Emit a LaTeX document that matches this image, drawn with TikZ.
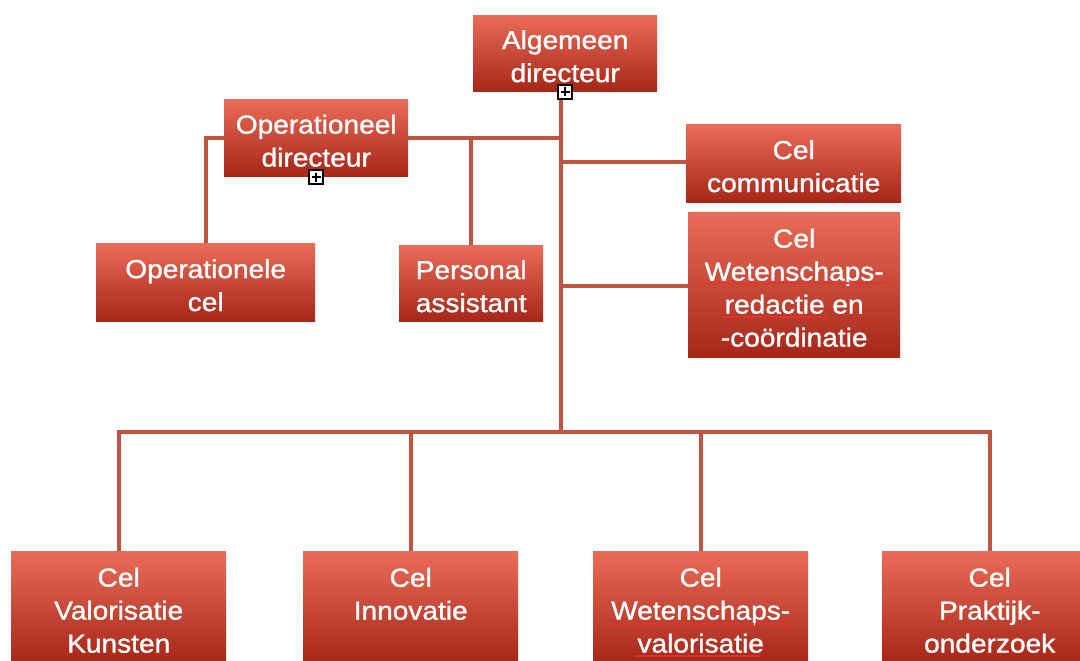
\documentclass[tikz,border=0pt]{standalone}
\usepackage{fontspec}
\setmainfont{Liberation Sans}[FakeStretch=1.08,FakeBold=1.2]
\newcommand\tp{\rule{0pt}{25pt}}
\newcommand\zl{\rule{0pt}{1pt}}
\begin{document}
\begin{tikzpicture}[x=1pt,y=-1pt]
\definecolor{boxtop}{RGB}{234,108,88}
\definecolor{boxbot}{RGB}{166,38,24}
\definecolor{linec}{RGB}{192,84,64}
\definecolor{squig}{RGB}{230,50,50}
\tikzset{
  unit/.style={shade, top color=boxtop, bottom color=boxbot, text=white,
    font=\fontsize{26}{33}\selectfont, align=center, inner sep=0pt, anchor=north west},
  conn/.style={draw=linec, line width=4pt},
  plusbox/.style={draw=black, fill=white, minimum size=14pt, inner sep=0pt, line width=1.2pt},
  plusmark/.style={line width=1.2pt},
  spell/.style={draw=squig, line width=1.6pt, dash pattern=on 2.5pt off 1.5pt}
}
\useasboundingbox (0,0) rectangle (1080,661);
% junctions
\coordinate (j1) at (561,138);
\coordinate (j2) at (561,162);
\coordinate (j3) at (561,286);
\coordinate (j4) at (561,432);
% boxes
\node[unit, minimum width=184pt, minimum height=76pt] (ad) at (473,15) {\tp Algemeen\\directeur};
\node[unit, minimum width=184pt, minimum height=77pt] (od) at (224,99) {\tp Operationeel\\directeur};
\node[unit, minimum width=215pt, minimum height=78pt] (cc) at (686,124) {\tp Cel\\communicatie};
\node[unit, minimum width=212pt, minimum height=145pt] (cw) at (688,212) {\tp Cel\\Wetenschaps-\\redactie en\\-coördinatie};
\node[unit, minimum width=219pt, minimum height=78pt] (oc) at (96,243) {\tp Operationele\\cel};
\node[unit, minimum width=144pt, minimum height=76pt] (pa) at (399,245) {\tp Personal\\assistant};
\node[unit, minimum width=215pt, minimum height=112pt] (b1) at (11,551) {\tp Cel\\Valorisatie\\Kunsten};
\node[unit, minimum width=215pt, minimum height=112pt] (b2) at (303,551) {\tp Cel\\Innovatie\\\zl};
\node[unit, minimum width=215pt, minimum height=112pt] (b3) at (593,551) {\tp Cel\\Wetenschaps-\\valorisatie};
\node[unit, minimum width=215pt, minimum height=112pt] (b4) at (882,551) {\tp Cel\\Praktijk-\\onderzoek};
% connectors
\draw[conn] (ad.south -| j1) -- (j4);
\draw[conn] (j1) -- (od.east |- j1);
\draw[conn] (od.west |- j1) -| (oc.north);
\draw[conn] (pa.north) -- (pa.north |- j1);
\draw[conn] (j2) -- (cc.west |- j2);
\draw[conn] (j3) -- (cw.west |- j3);
\draw[conn] (b1.north) -- (b1.north |- j4) -- (b4.north |- j4) -- (b4.north);
\draw[conn] (b2.north |- j4) -- (b2.north);
\draw[conn] (b3.north |- j4) -- (b3.north);
% expand icons
\node[plusbox] (p1) at (565,92) {};
\draw[plusmark] ([xshift=-4.5pt]p1.center) -- ([xshift=4.5pt]p1.center)
  ([yshift=-4.5pt]p1.center) -- ([yshift=4.5pt]p1.center);
\node[plusbox] (p2) at (316,177) {};
\draw[plusmark] ([xshift=-4.5pt]p2.center) -- ([xshift=4.5pt]p2.center)
  ([yshift=-4.5pt]p2.center) -- ([yshift=4.5pt]p2.center);
% spell-check marks
\draw[spell] (702,283) -- (887,283);
\draw[spell] (723,317) -- (827,317);
\draw[spell] (607,624) -- (792,624);
\draw[spell] (635,656) -- (760,656);
\end{tikzpicture}
\end{document}
